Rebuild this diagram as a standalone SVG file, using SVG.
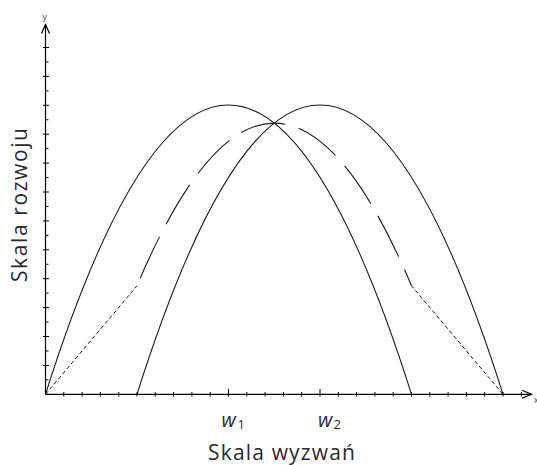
<svg xmlns="http://www.w3.org/2000/svg" width="537" height="465" viewBox="0 0 537 465">
<style>
.ax{stroke:#000;stroke-width:1.2;fill:none}
.tk{stroke:#000;stroke-width:1}
.cv{stroke:#1a1a1a;stroke-width:1.1;fill:none}
.ds{stroke:#1a1a1a;stroke-width:1.1;fill:none;stroke-dasharray:46 14;stroke-dashoffset:52}
.dt{stroke:#1a1a1a;stroke-width:1;fill:none;stroke-dasharray:4 2.6}
.lbl{font-family:"Open Sans","DejaVu Sans",sans-serif;fill:#2a2a2a}
.w{font-family:"Open Sans","DejaVu Sans",sans-serif;fill:#2a2a2a;font-style:italic;font-size:20px}
.sub{font-family:"Open Sans","DejaVu Sans",sans-serif;fill:#2a2a2a;font-size:13px}
.sm{font-family:"Liberation Sans",sans-serif;fill:#444;font-size:9px}
</style>
<rect width="537" height="465" fill="#fff"/>
<g id="axes">
<line class="ax" x1="45.5" y1="394.3" x2="531.5" y2="394.3"/>
<line class="ax" x1="45.5" y1="394.3" x2="45.5" y2="24.5"/>
<polyline class="ax" points="522,390.3 531.5,394.3 522,398.3"/>
<polyline class="ax" points="41.5,33.5 45.5,24.5 49.5,33.5"/>
<g id="xticks">
<path class="tk" d="M63.8,392v4.5M82.1,392v4.5M100.4,392v4.5M118.7,392v4.5M137,392v4.5M155.3,392v4.5M173.6,392v4.5M191.9,392v4.5M210.2,392v4.5M228.5,389v7.5M246.8,392v4.5M265.1,392v4.5M283.4,392v4.5M301.7,392v4.5M320,389v7.5M338.3,392v4.5M356.6,392v4.5M374.9,392v4.5M393.2,392v4.5M411.5,392v4.5M429.8,392v4.5M448.1,392v4.5M466.4,392v4.5M484.7,392v4.5M503,392v4.5M521.3,392v4.5"/>
</g>
<g id="yticks">
<path class="tk" d="M45.5,379.85h3M43,365.4h6M45.5,350.95h3M43,336.5h6M45.5,322.05h3M43,307.6h6M45.5,293.15h3M43,278.7h6M45.5,264.25h3M43,249.8h6M45.5,235.35h3M43,220.9h6M45.5,206.45h3M43,192h6M45.5,177.55h3M43,163.1h6M45.5,148.65h3M43,134.2h6M45.5,119.75h3M43,105.3h6M45.5,90.85h3M43,76.4h6M45.5,61.95h3M43,47.5h6"/>
</g>
<text class="sm" x="42.5" y="20">y</text>
<text class="sm" x="534" y="403">x</text>
</g>
<g id="connectors">
<path id="curve1" class="cv" d="M45.5,394.3 Q228.5,-184.3 411.5,394.3"/>
<path id="curve2" class="cv" d="M137,394.3 Q320,-184.3 503,394.3"/>
<path id="curve-avg" class="ds" d="M137,285.8 Q274.25,-39.6 411.5,285.8"/>
<line class="dt" x1="45.5" y1="394.3" x2="137" y2="285.8"/>
<line class="dt" x1="503" y1="394.3" x2="411.5" y2="285.8"/>
</g>
<g id="labels">
<text class="w" x="221.5" y="427">w</text>
<text class="sub" x="237.5" y="428.5">1</text>
<text class="w" x="318" y="427">w</text>
<text class="sub" x="333.5" y="428.5">2</text>
<text class="lbl" x="208" y="459.5" font-size="21" textLength="147" lengthAdjust="spacing">Skala wyzwań</text>
<text class="lbl" transform="translate(27,282) rotate(-90)" x="0" y="0" font-size="21" textLength="154" lengthAdjust="spacing">Skala rozwoju</text>
</g>
</svg>
